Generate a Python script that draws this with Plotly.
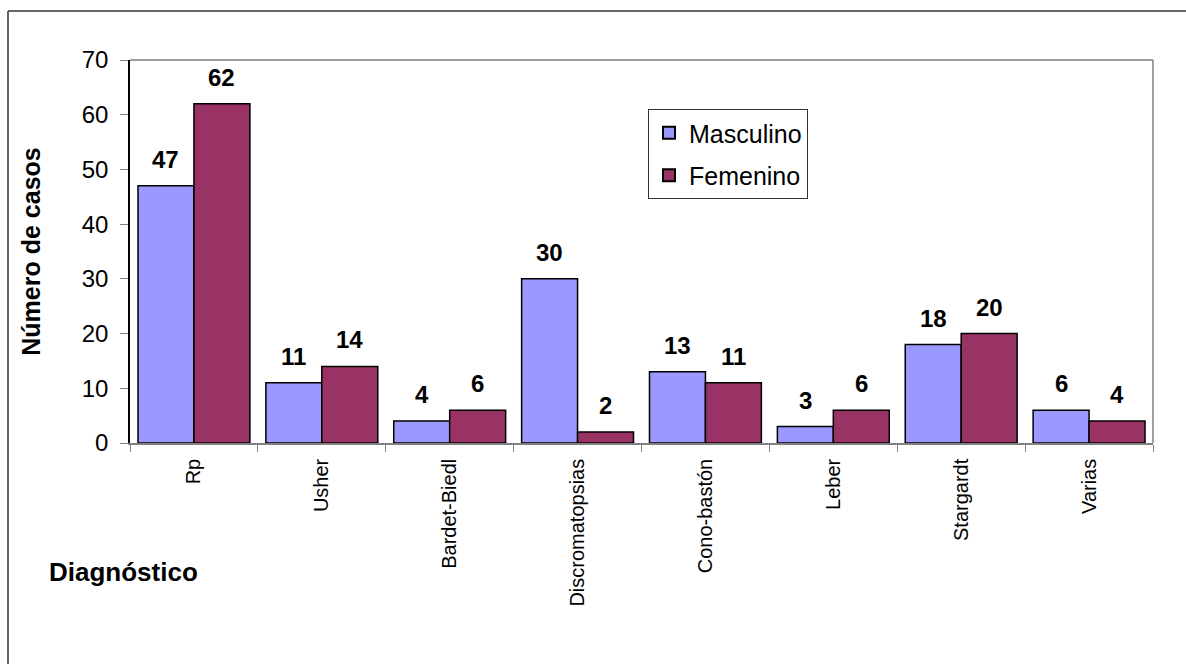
import plotly.graph_objects as go

categorias = ["Rp", "Usher", "Bardet-Biedl", "Discromatopsias", "Cono-bastón", "Leber", "Stargardt", "Varias"]
masculino = [47, 11, 4, 30, 13, 3, 18, 6]
femenino = [62, 14, 6, 2, 11, 6, 20, 4]
y_ticks = [0, 10, 20, 30, 40, 50, 60, 70]

W, H = 1186, 664
L, R, T, B = 130, 33, 60, 221
pw, ph = W - L - R, H - T - B

def px(x):
    return (x - L) / pw

def py(y):
    return (H - B - y) / ph

FONT = "Liberation Sans, Arial, sans-serif"

fig = go.Figure()
fig.add_trace(go.Bar(x=categorias, y=masculino, name="Masculino", legendgroup="m",
                     marker=dict(color="#9999FF", line=dict(color="black", width=1.5))))
fig.add_trace(go.Bar(x=categorias, y=femenino, name="Femenino", legendgroup="f",
                     marker=dict(color="#993366", line=dict(color="black", width=1.5))))

annotations = []
for cat, m, f in zip(categorias, masculino, femenino):
    for val, shift in ((m, -28), (f, 28)):
        annotations.append(dict(x=cat, y=val, xref="x", yref="y", text=f"<b>{val}</b>",
                                showarrow=False, xshift=shift, yshift=11, yanchor="bottom",
                                font=dict(family=FONT, size=24, color="black")))
annotations.append(dict(x=px(47), y=py(572), xref="paper", yref="paper", text="<b>Diagnóstico</b>",
                        showarrow=False, xanchor="left", yanchor="middle",
                        font=dict(family=FONT, size=26, color="black")))

shapes = [
    # outer frame
    dict(type="line", xref="paper", yref="paper", x0=px(8), x1=px(8), y0=py(700), y1=py(11),
         line=dict(color="#333333", width=1.5)),
    dict(type="line", xref="paper", yref="paper", x0=px(8), x1=px(1200), y0=py(11), y1=py(11),
         line=dict(color="#333333", width=1.5)),
    # plot area top/right border
    dict(type="line", xref="paper", yref="paper", x0=0, x1=1, y0=1, y1=1,
         line=dict(color="#808080", width=1.5)),
    dict(type="line", xref="paper", yref="paper", x0=1, x1=1, y0=0, y1=1,
         line=dict(color="#808080", width=1.5)),
]

fig.update_layout(
    width=W, height=H,
    margin=dict(l=L, r=R, t=T, b=B, pad=0),
    paper_bgcolor="white", plot_bgcolor="white",
    barmode="group", bargap=0.125, bargroupgap=0,
    font=dict(family=FONT, color="black"),
    showlegend=True,
    legend=dict(x=px(648), y=py(109), xanchor="left", yanchor="top",
                bordercolor="#333333", borderwidth=1, bgcolor="white",
                font=dict(family=FONT, size=25, color="black"),
                tracegroupgap=7, itemsizing="constant", itemwidth=30),
    annotations=annotations,
    shapes=shapes,
    xaxis=dict(showgrid=False, showline=True, linecolor="#808080", linewidth=1.5,
               ticks="outside", tickson="boundaries", ticklen=7, tickcolor="#808080",
               tickangle=-90, ticklabelstandoff=6,
               tickfont=dict(family=FONT, size=20, color="black")),
    yaxis=dict(range=[0, 70], tickvals=y_ticks, showgrid=False, zeroline=False,
               showline=True, linecolor="black", linewidth=1.5,
               ticks="outside", ticklen=8, tickcolor="#808080", ticklabelstandoff=7,
               tickfont=dict(family=FONT, size=24, color="black"),
               title=dict(text="<b>Número de casos</b>", standoff=34,
                          font=dict(family=FONT, size=25, color="black"))),
)

fig.write_html("out.html")
